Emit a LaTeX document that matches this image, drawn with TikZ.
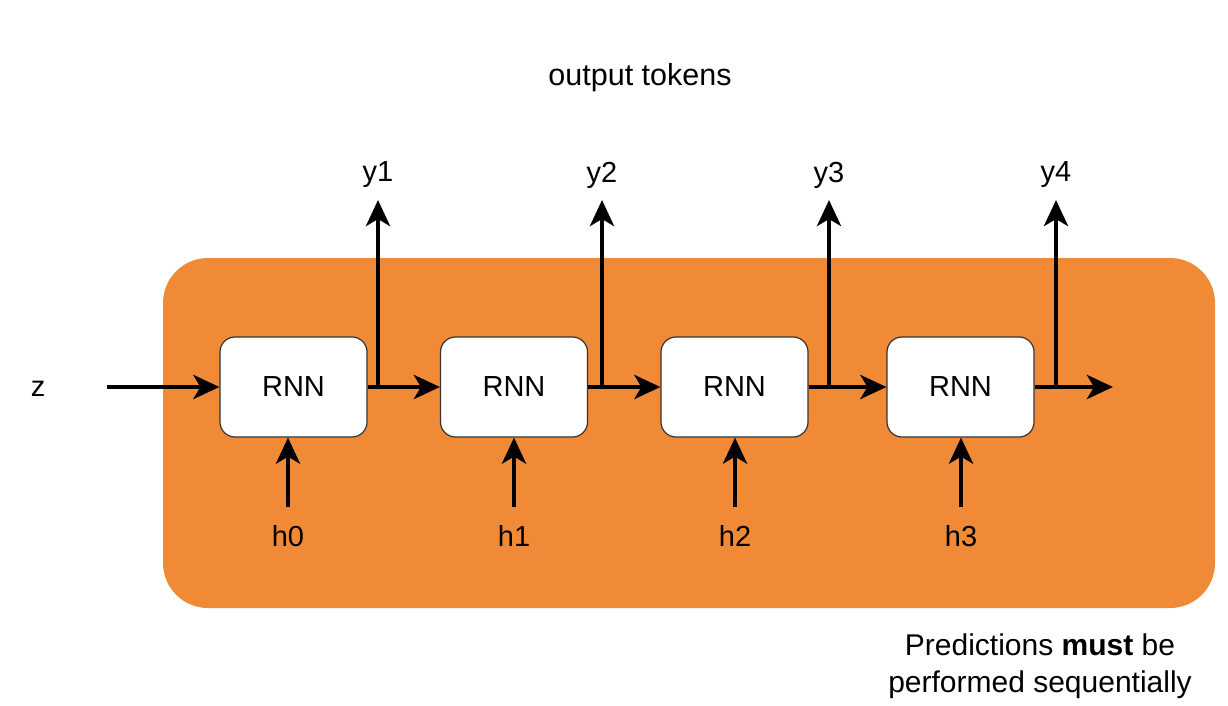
\documentclass[tikz,border=0pt]{standalone}
\usepackage{fontspec}
\setmainfont{Liberation Sans}
\usetikzlibrary{arrows.meta}
\definecolor{orng}{RGB}{240,138,54}
\begin{document}
\begin{tikzpicture}[x=1pt,y=-1pt,
  txt/.style={font=\fontsize{29}{35}\selectfont, inner sep=0pt, anchor=center},
  rnn/.style={draw=black!80, line width=1.2pt, fill=white, rounded corners=15pt,
    minimum width=147pt, minimum height=100pt, inner sep=0pt,
    font=\fontsize{29}{35}\selectfont},
  arr/.style={line width=4.5pt, -{Stealth[length=26pt,width=24pt,inset=7pt]}},
  ln/.style={line width=4.5pt}]
\useasboundingbox (0,0) rectangle (1228,706);
\node[fill=orng, rounded corners=45pt, minimum width=1052pt, minimum height=350pt, inner sep=0pt] (bg) at (689,433) {};
\node[txt, font=\fontsize{30.5}{36}\selectfont] (out) at (640,78) {output tokens};
\node[txt, font=\fontsize{30}{37}\selectfont, align=center] (pred) at (1040,666) {Predictions \textbf{must} be\\performed sequentially};

\node[rnn] (b1) at (293.5,387) {RNN};
\node[rnn] (b2) at (514,387) {RNN};
\node[rnn] (b3) at (734.5,387) {RNN};
\node[rnn] (b4) at (960.5,387) {RNN};

\node[txt] (z) at (38,389) {z};
\coordinate (zs) at (107,387);

\foreach \i/\x in {1/378,2/602,3/829,4/1056}{
  \node[txt] (y\i) at (\x,175) {y\i};
  \coordinate (j\i) at (\x,387);
  \coordinate (t\i) at (\x,200);
}
\coordinate (end) at (1113,387);

\foreach \i/\x [count=\k from 0] in {1/288,2/514,3/735,4/961}{
  \node[txt] (h\k) at (\x,536) {h\k};
  \coordinate (s\i) at (\x,507);
}

\draw[arr] (zs) -- (b1.west);
\draw[arr] (b1.east) -- (b2.west);
\draw[arr] (b2.east) -- (b3.west);
\draw[arr] (b3.east) -- (b4.west);
\draw[arr] (b4.east) -- (end);
\foreach \i in {1,...,4}{
  \draw[arr] (j\i) -- (t\i);
  \draw[arr] (s\i) -- (s\i |- b\i.south);
}
\end{tikzpicture}
\end{document}
